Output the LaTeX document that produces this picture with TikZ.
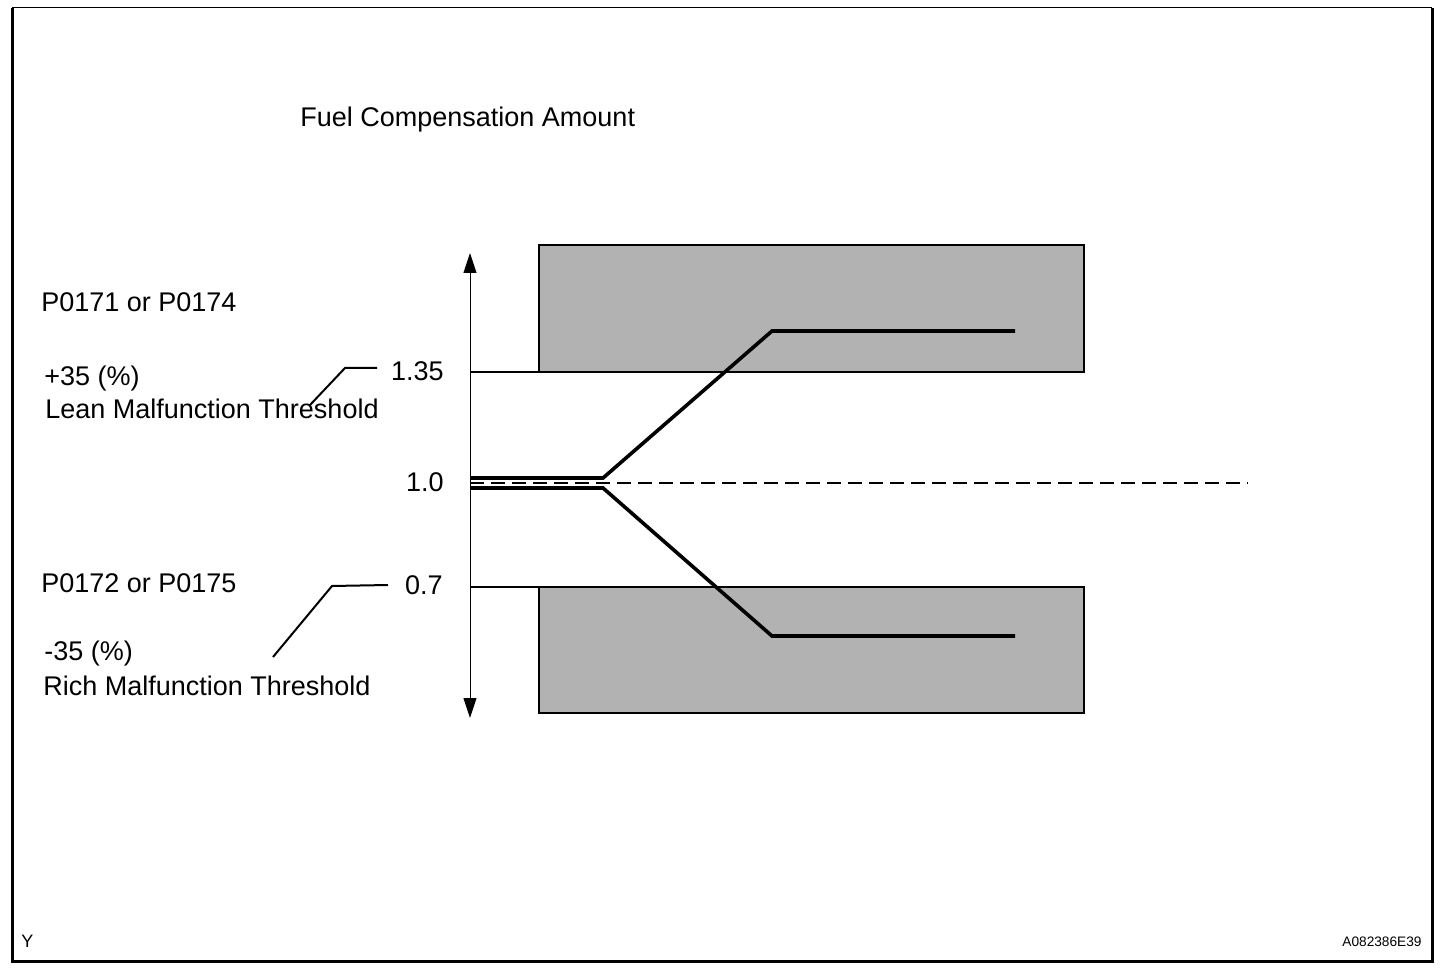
\documentclass[tikz,border=0pt]{standalone}
\usepackage{fontspec}
\setmainfont{Liberation Sans}
\usetikzlibrary{arrows.meta}

\begin{document}
\begin{tikzpicture}
  [x=0.5pt,y=-0.5pt,
   every node/.style={inner sep=0pt,font=\fontsize{13.5}{16}\selectfont},
   band/.style={draw=black,line width=0.7pt,fill=black!30},
   trend/.style={line width=1.8pt,line join=miter},
   limit/.style={line width=1.2pt},
   leader/.style={line width=1pt},
   tag/.style={font=\fontsize{6.85}{8}\selectfont}]
  \useasboundingbox (0,0) rectangle (1456,978);
  % frame
  \draw[line width=0.5pt] (12,8) -- (1432,8);
  \draw[line width=1.5pt] (12,8) -- (12,961) -- (1432,961) -- (1432,8);
  % shaded bands
  \draw[band] (539,245) rectangle (1084,372);
  \draw[band] (539,587) rectangle (1084,713);
  % axis
  \coordinate (ytop) at (470,253);
  \coordinate (ybot) at (470,718);
  \draw[line width=0.5pt,{Triangle[width=6.5pt,length=10pt]}-{Triangle[width=6.5pt,length=10pt]}] (ytop) -- (ybot);
  % thresholds
  \coordinate (hi) at (470,372);
  \coordinate (hib) at (539,372);
  \coordinate (lo) at (470,587);
  \coordinate (lob) at (539,587);
  \draw[limit] (hi) -- (hib);
  \draw[limit] (lo) -- (lob);
  \coordinate (one) at (470,483);
  \coordinate (onee) at (1248,483);
  \draw[line width=1.3pt,dash pattern=on 7pt off 3.5pt] (one) -- (onee);
  % compensation curves
  \coordinate (ua) at (470,478);
  \coordinate (ub) at (603,478);
  \coordinate (uc) at (772,331);
  \coordinate (ud) at (1015,331);
  \coordinate (la) at (470,488);
  \coordinate (lb) at (603,488);
  \coordinate (lc) at (772,636);
  \coordinate (ld) at (1015,636);
  \draw[trend] (ua) -- (ub) -- (uc) -- (ud);
  \draw[trend] (la) -- (lb) -- (lc) -- (ld);
  % labels
  \node[anchor=base west] (ttl) at (300,127) {Fuel Compensation Amount};
  \node[anchor=base west] (pl) at (41,312) {P0171 or P0174};
  \node[anchor=base west] (pcl) at (44,386) {+35 (\%)};
  \node[anchor=base west] (tl) at (45,419) {Lean Malfunction Threshold};
  \node[anchor=base west] (pr) at (41,592) {P0172 or P0175};
  \node[anchor=base west] (pcr) at (44,660) {-35 (\%)};
  \node[anchor=base west] (tr) at (43,695) {Rich Malfunction Threshold};
  \node[anchor=east] (vhi) at (444,371) {1.35};
  \node[anchor=east] (vone) at (444,482) {1.0};
  \node[anchor=east] (vlo) at (443,585) {0.7};
  % leaders
  \coordinate (lha) at (310,405);
  \coordinate (lhb) at (345,368);
  \coordinate (lhc) at (377,368);
  \coordinate (lra) at (273,657);
  \coordinate (lrb) at (332,586);
  \coordinate (lrc) at (388,585);
  \draw[leader] (lha) -- (lhb) -- (lhc);
  \draw[leader] (lra) -- (lrb) -- (lrc);
  % corner tags
  \node[tag,anchor=base west,font=\fontsize{9}{10}\selectfont] (ty) at (21,947) {Y};
  \node[tag,anchor=base east] (tid) at (1422,946) {A082386E39};
\end{tikzpicture}
\end{document}
